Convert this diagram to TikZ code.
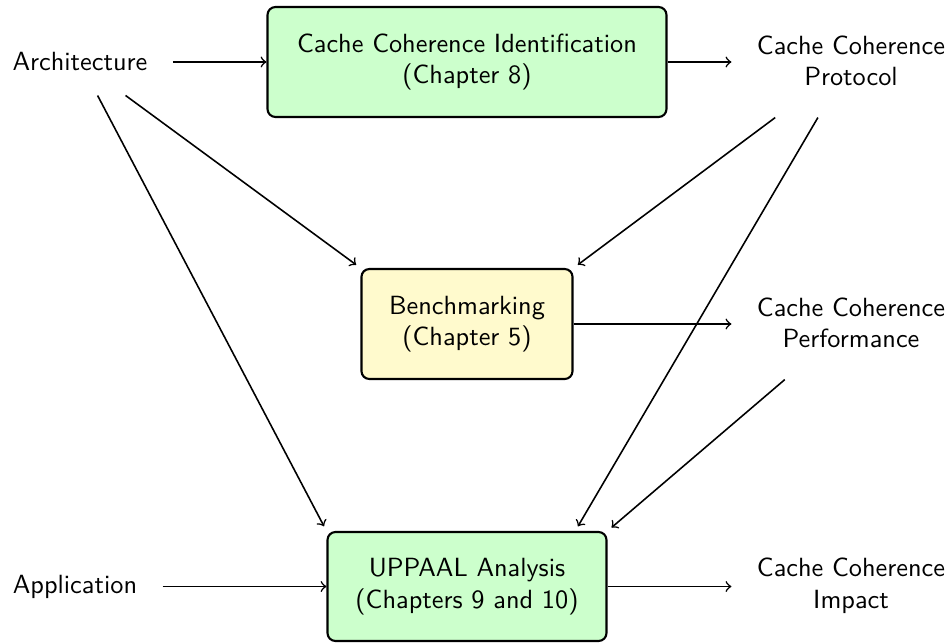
\documentclass[tikz,border=0pt]{standalone}
\usepackage{fontspec}
\usetikzlibrary{calc}
\definecolor{boxgreen}{RGB}{204,255,204}
\definecolor{boxyellow}{RGB}{255,250,205}
\begin{document}
\begin{tikzpicture}[x=0.38pt,y=-0.38pt,
  every node/.style={font=\sffamily},
  procbox/.style={draw, thick, rounded corners=3pt, align=center, minimum height=41.8pt, inner sep=0pt},
  inbox/.style={inner xsep=9.5pt, inner ysep=9pt},
  outbox/.style={inner xsep=9.5pt, inner ysep=0pt, minimum height=42.6pt, align=center},
  conn/.style={->, semithick},
  diag/.style={->, semithick, shorten >=2pt}]
\useasboundingbox (0,0) rectangle (952,642);
\node[procbox, fill=boxgreen, minimum width=151.6pt] (ident) at (467,62) {Cache Coherence Identification\\(Chapter 8)};
\node[procbox, fill=boxyellow, minimum width=80.2pt] (bench) at (467,324) {Benchmarking\\(Chapter 5)};
\node[procbox, fill=boxgreen, minimum width=106pt, minimum height=41.4pt] (upp) at (467,586.5) {UPPAAL Analysis\\(Chapters 9 and 10)};
\node[inbox] (arch) at (80,62) {Architecture};
\node[inbox] (app) at (75,586.5) {Application};
\node[outbox] (prot) at (851,61) {Cache Coherence\\Protocol};
\node[outbox] (perf) at (851,323) {Cache Coherence\\Performance};
\node[outbox] (imp) at (851,585.5) {Cache Coherence\\Impact};
\draw[conn] (arch) -- (ident);
\draw[conn] (ident.east) -- (ident.east -| prot.west);
\draw[conn] (bench.east) -- (bench.east -| perf.west);
\draw[conn] (app) -- (upp);
\draw[conn] (upp.east) -- (upp.east -| imp.west);
\draw[diag] (arch) -- (bench.north west);
\draw[diag] (arch) -- (upp.north west);
\draw[diag] (prot) -- (bench.north east);
\draw[diag] (prot) -- ($(upp.north)!0.77!(upp.north east)$);
\draw[diag] (perf) -- (upp.north east);
\end{tikzpicture}
\end{document}
